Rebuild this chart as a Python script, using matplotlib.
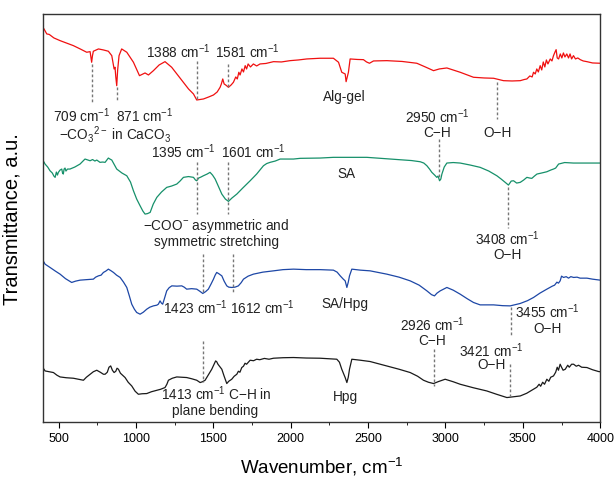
import matplotlib
matplotlib.use("Agg")
import matplotlib.pyplot as plt
from matplotlib.ticker import MultipleLocator

plt.rcParams["font.family"] = ["Liberation Sans", "DejaVu Sans"]
plt.rcParams["mathtext.fontset"] = "custom"
plt.rcParams["mathtext.rm"] = "Liberation Sans"
plt.rcParams["mathtext.it"] = "Liberation Sans:italic"
plt.rcParams["mathtext.bf"] = "Liberation Sans:bold"
plt.rcParams["mathtext.default"] = "rm"

# spectra (wavenumber, transmittance a.u. incl. offset)
alg_gel = [
    (406, 393), (413, 391), (424, 388), (440, 387.5), (470, 384), (510, 381.3), (550, 379),
    (596, 376.3), (640, 373), (682, 369.7), (704, 370.3), (710, 364), (714, 359.7), (719, 366),
    (725, 370.7), (758, 373), (790, 372), (822, 370.7), (844, 366.3), (859, 353), (865, 354.7),
    (870, 345), (876, 336.3), (882, 352), (891, 366.3), (908, 373), (941, 369.7), (984, 359.7),
    (1023, 346.3), (1059, 349), (1081, 347), (1113, 351.3), (1150, 357), (1188, 360.3),
    (1231, 354.7), (1270, 347), (1307, 339.7), (1340, 333), (1372, 328), (1393, 322),
    (1436, 323), (1470, 325), (1501, 327), (1525, 330), (1544, 334.7), (1552, 338), (1561, 343),
    (1570, 338), (1580, 337), (1598, 334.7), (1615, 337), (1630, 339.7), (1645, 345), (1655, 343),
    (1665, 349.7), (1673, 347), (1685, 353), (1695, 350), (1706, 356.3), (1715, 353), (1725, 358),
    (1740, 355), (1759, 358), (1780, 356), (1802, 358), (1840, 358.5), (1889, 360.3), (1940, 360),
    (1996, 361.3), (2050, 362), (2104, 363), (2190, 363.7), (2276, 363.7), (2309, 359.7),
    (2330, 349.7), (2352, 348), (2358, 340.3), (2373, 349.7), (2384, 363), (2430, 362.5),
    (2470, 362.3), (2490, 360), (2509, 358.7), (2535, 361), (2621, 361.3), (2720, 360.5),
    (2815, 358.7), (2870, 355), (2923, 351.3), (2960, 353), (3009, 354), (3095, 349.7),
    (3181, 344.7), (3250, 344), (3311, 343.7), (3375, 341.3), (3430, 341), (3483, 341.3),
    (3510, 342.5), (3526, 343), (3545, 346), (3560, 345), (3569, 349.7), (3580, 348), (3590, 353),
    (3600, 350), (3612, 356.3), (3622, 352), (3632, 360), (3642, 355), (3652, 362), (3662, 358),
    (3677, 363), (3688, 361), (3698, 366.3), (3708, 370), (3715, 372.3), (3722, 364), (3731, 363),
    (3742, 368), (3752, 364), (3762, 369), (3772, 365), (3784, 368), (3795, 364), (3805, 368),
    (3815, 363), (3827, 366.3), (3840, 363), (3855, 364), (3871, 362.3), (3890, 361),
    (3914, 360.3), (3950, 359), (4000, 358.7),
]

sa = [
    (406, 260), (413, 258), (430, 255), (445, 251.3), (460, 249), (470, 246), (478, 244.7),
    (486, 250), (493, 247), (499, 249.7), (510, 252), (521, 253), (526, 249), (531, 248),
    (536, 253), (542, 254), (548, 251), (558, 253), (574, 253), (605, 255), (639, 258),
    (671, 263), (704, 261.3), (720, 262.5), (735, 261), (747, 262), (768, 259.7), (785, 260),
    (801, 259.7), (812, 262), (822, 264), (832, 263), (844, 262), (876, 253), (910, 249),
    (941, 246.3), (965, 240), (984, 231.3), (1005, 223), (1027, 216.3), (1045, 211), (1059, 208),
    (1075, 208.5), (1092, 209.7), (1112, 218), (1135, 224.7), (1165, 230), (1199, 234.7),
    (1230, 236), (1264, 238), (1285, 241), (1307, 244.7), (1340, 245.5), (1372, 244.7),
    (1385, 242), (1393, 241.3), (1405, 244), (1420, 245), (1436, 246.3), (1460, 248),
    (1479, 249.7), (1495, 247), (1512, 243), (1535, 235), (1555, 228), (1578, 223), (1598, 220.7),
    (1620, 224), (1652, 228), (1690, 234), (1738, 241.3), (1780, 248), (1824, 256.3),
    (1845, 258.5), (1867, 259.7), (1900, 261), (1932, 263), (2018, 263), (2061, 263.7),
    (2190, 264), (2276, 264.7), (2492, 264.7), (2600, 263.5), (2707, 262.3), (2780, 261.5),
    (2837, 260.3), (2860, 259), (2880, 256.3), (2897, 253), (2912, 249.7), (2930, 247),
    (2944, 244.7), (2952, 246), (2962, 241.3), (2970, 243), (2977, 248), (2992, 255), (3009, 259),
    (3050, 259.5), (3095, 259), (3160, 257), (3224, 254.7), (3280, 251), (3332, 246.3),
    (3360, 243), (3386, 239.7), (3407, 237), (3425, 241), (3440, 241.3), (3460, 239),
    (3483, 239.7), (3505, 242), (3526, 244.7), (3545, 244), (3558, 243.7), (3575, 246),
    (3591, 248), (3620, 249), (3655, 250.3), (3680, 252), (3698, 253), (3712, 254), (3731, 258),
    (3770, 259.5), (3827, 259), (3900, 259), (4000, 259),
]

sa_hpg = [
    (406, 160), (413, 158), (445, 154.7), (480, 151), (510, 148), (545, 143.5), (585, 139.7),
    (610, 141), (639, 142), (680, 142.5), (725, 143), (740, 145), (758, 146.3), (775, 147),
    (790, 149.7), (805, 151), (822, 153), (838, 151.5), (855, 149.7), (875, 147), (898, 144.7),
    (920, 140), (941, 134.7), (958, 126), (973, 118), (990, 113), (1005, 109.7), (1027, 108),
    (1048, 110), (1070, 113), (1090, 115), (1113, 116.3), (1135, 117), (1145, 118), (1156, 121.3),
    (1165, 119), (1173, 118), (1185, 124), (1199, 131.3), (1215, 134.5), (1232, 136.3),
    (1265, 136), (1296, 136.3), (1312, 135), (1328, 133), (1360, 133.5), (1393, 133),
    (1412, 131), (1432, 128.7), (1450, 130.5), (1468, 133), (1485, 138), (1501, 143), (1512, 147),
    (1522, 149.7), (1535, 148.5), (1555, 146.3), (1570, 141), (1587, 136.3), (1600, 135),
    (1619, 134.7), (1640, 135), (1662, 136.3), (1680, 139.5), (1695, 143), (1725, 146),
    (1759, 148), (1820, 150), (1889, 151.3), (1950, 152.5), (2018, 153), (2100, 152.5),
    (2190, 152.5), (2276, 152), (2300, 150), (2320, 146.3), (2340, 143), (2352, 141.3),
    (2363, 134.7), (2372, 140), (2380, 146.3), (2395, 153), (2450, 152), (2513, 151.3),
    (2621, 148), (2700, 145), (2772, 141.3), (2830, 137), (2880, 131.3), (2910, 127.5),
    (2929, 126.3), (2945, 129), (2966, 131.3), (3009, 134.7), (3050, 132), (3095, 128),
    (3140, 123.5), (3181, 119.7), (3224, 117.3), (3311, 117.3), (3370, 116.5), (3418, 116.3),
    (3483, 118.7), (3530, 121.5), (3569, 124.7), (3610, 129), (3655, 133), (3690, 136),
    (3705, 137), (3720, 140), (3730, 139), (3741, 141.3), (3750, 146), (3763, 144.7),
    (3780, 145.5), (3795, 144), (3810, 145.5), (3828, 144.7), (3850, 145), (3870, 144),
    (3914, 144), (3950, 143), (4000, 142),
]

hpg = [
    (406, 53), (413, 51.3), (440, 50.5), (467, 49.7), (490, 47), (510, 45.3), (550, 44.5),
    (596, 44), (630, 43), (661, 42), (680, 45), (704, 48), (725, 50.5), (747, 52), (770, 50),
    (790, 48), (801, 48), (815, 50), (826, 55), (837, 56.3), (848, 52), (859, 49.7), (870, 51),
    (878, 54), (887, 53), (900, 49), (930, 44.7), (950, 40), (973, 36.3), (995, 31), (1016, 28),
    (1040, 28.5), (1070, 28.7), (1100, 30.5), (1135, 32), (1160, 33), (1188, 34.7), (1200, 38),
    (1210, 42), (1235, 44), (1264, 45.3), (1295, 45), (1328, 44.7), (1360, 43.5), (1393, 42),
    (1415, 39.7), (1430, 40.5), (1447, 42), (1470, 48), (1490, 53), (1505, 58), (1515, 61.3),
    (1522, 60.5), (1530, 58), (1540, 56), (1555, 53), (1570, 46), (1587, 38.7), (1600, 41),
    (1619, 43), (1635, 46), (1652, 48), (1662, 51), (1672, 50), (1684, 54.7), (1695, 56),
    (1705, 59), (1715, 58), (1738, 62), (1760, 61.5), (1780, 63), (1800, 62.5), (1830, 63.8),
    (1860, 63), (1889, 64), (1950, 64.5), (2018, 64.7), (2100, 64.2), (2190, 64), (2298, 63),
    (2315, 60), (2330, 53), (2352, 44.7), (2363, 39.7), (2372, 45), (2380, 53), (2395, 63),
    (2450, 62), (2513, 60.7), (2621, 56.3), (2700, 53), (2772, 49.7), (2820, 46), (2858, 42),
    (2890, 40), (2923, 38.7), (2955, 40.7), (2998, 43), (3050, 40.5), (3095, 38), (3180, 34.5),
    (3267, 31.3), (3330, 28), (3397, 24.7), (3440, 25.5), (3483, 26.3), (3525, 29), (3569, 33),
    (3590, 35), (3605, 38), (3615, 36), (3628, 40), (3640, 38), (3655, 43), (3668, 41),
    (3680, 45), (3698, 46.3), (3712, 50), (3722, 55), (3730, 52), (3741, 58), (3750, 55),
    (3760, 52), (3774, 53), (3790, 57), (3800, 55), (3815, 58), (3828, 58), (3845, 56),
    (3860, 57), (3880, 55), (3914, 54.7), (3950, 52.5), (3989, 50.7), (4000, 50.5),
]

spectra = [alg_gel, sa, sa_hpg, hpg]
colors = ["#f01010", "#16906a", "#1d47a6", "#1a1a1a"]

# sample names: (label, wavenumber, y)
names = [("Alg-gel", 2345, 326), ("SA", 2358, 249), ("SA/Hpg", 2352, 119), ("Hpg", 2352, 26)]

# marker lines: (wavenumber, y_top, y_bottom)
marks = [
    (715, 358, 320), (876, 335, 320), (1393, 361, 323), (1598, 358, 335), (3332, 340, 303),
    (2960, 283, 243), (1393, 260, 208), (1598, 260, 208), (3405, 235, 194),
    (1436, 168, 130), (1626, 168, 128), (3423, 115, 86),
    (2929, 73, 36), (3414, 58, 26), (1432, 81, 40),
]

cm = " cm$^{-1}$"
notes = [
    ("709" + cm, 648, 307), ("871" + cm, 1058, 307),
    ("\u2212CO$_3$$^{2-}$ in CaCO$_3$", 865, 289),
    ("1388" + cm, 1272, 371), ("1581" + cm, 1718, 371),
    ("2950" + cm, 2946, 306), ("C\u2212H", 2946, 290), ("O\u2212H", 3334, 290),
    ("1395" + cm, 1305, 271), ("1601" + cm, 1757, 271),
    ("\u2212COO$^{-}$ asymmetric and", 1518, 197), ("symmetric stretching", 1518, 181),
    ("3408" + cm, 3399, 184), ("O\u2212H", 3399, 168),
    ("1423" + cm, 1382, 115), ("1612" + cm, 1819, 115),
    ("3455" + cm, 3661, 111), ("O\u2212H", 3661, 94),
    ("2926" + cm, 2917, 98), ("C\u2212H", 2917, 82),
    ("3421" + cm, 3295, 73), ("O\u2212H", 3295, 58),
    ("1413" + cm + " C\u2212H in", 1518, 30), ("plane bending", 1512, 12),
]

fig = plt.figure(figsize=(6.15, 4.81), dpi=100)
ax = fig.add_axes([0.07, 0.12, 0.906, 0.849])

for data, c in zip(spectra, colors):
    ax.plot([p[0] for p in data], [p[1] for p in data], color=c, lw=0.9)

for w, y0, y1 in marks:
    ax.plot([w, w], [y0, y1], color="#777777", lw=1.0, ls=(0, (2, 1.6)))

for txt, w, y in names + notes:
    ax.text(w, y, txt, ha="center", va="center", fontsize=9.8, color="#222222")

ax.set_xlim(400, 4000)
ax.set_ylim(0, 408)
ax.set_yticks([])
ax.xaxis.set_major_locator(MultipleLocator(500))
ax.xaxis.set_minor_locator(MultipleLocator(250))
ax.tick_params(axis="x", which="major", direction="out", length=4, labelsize=9, pad=3)
ax.tick_params(axis="x", which="minor", direction="out", length=2.5)
for s in ax.spines.values():
    s.set_linewidth(1.0)
    s.set_color("#333333")

ax.set_xlabel("Wavenumber, cm$^{-1}$", fontsize=13.5, labelpad=8)
ax.set_ylabel("Transmittance, a.u.", fontsize=14.5)
ax.yaxis.set_label_coords(-0.038, 0.5)

fig.savefig("out.png", dpi=100)
